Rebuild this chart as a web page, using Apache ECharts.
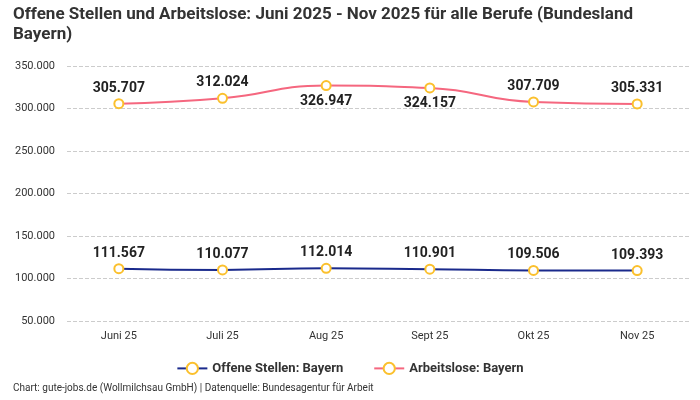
<!DOCTYPE html>
<html>
<head>
<meta charset="utf-8">
<style>
  html, body { margin: 0; padding: 0; background: #fff; }
  #main { width: 700px; height: 400px; }
</style>
</head>
<body>
<div id="main"></div>
<script src="https://cdn.jsdelivr.net/npm/echarts@6/dist/echarts.min.js"></script>
<script>
// Monate
var months = ['Juni 25', 'Juli 25', 'Aug 25', 'Sept 25', 'Okt 25', 'Nov 25'];
// Offene Stellen und Arbeitslose (Bayern)
var offeneStellen = [111567, 110077, 112014, 110901, 109506, 109393];
var arbeitslose = [305707, 312024, 326947, 324157, 307709, 305331];
// Label unter dem Punkt bei diesen Monaten (Arbeitslose)
var arbeitsloseLabelPos = ['top', 'top', 'bottom', 'bottom', 'top', 'top'];

var fontFam = 'Roboto, "Noto Sans", sans-serif';

function fmt(v) {
    return String(v).replace(/\B(?=(\d{3})+(?!\d))/g, '.');
}

var myChart = echarts.init(document.getElementById('main'));

var markerStyle = { color: '#ffffff', borderColor: '#fbc02d', borderWidth: 2 };

var option = {
    animation: false,
    textStyle: { fontFamily: fontFam },
    title: [{
        text: 'Offene Stellen und Arbeitslose: Juni 2025 - Nov 2025 für alle Berufe (Bundesland\nBayern)',
        left: 8,
        top: 0,
        textStyle: { fontSize: 17, fontWeight: 'bold', color: '#333', lineHeight: 20, fontFamily: fontFam }
    }, {
        text: 'Chart: gute-jobs.de (Wollmilchsau GmbH) | Datenquelle: Bundesagentur für Arbeit',
        left: 8,
        bottom: 2,
        textStyle: { fontSize: 10, fontWeight: 'normal', color: '#333', fontFamily: fontFam }
    }],
    legend: {
        bottom: 20,
        left: 'center',
        itemGap: 30,
        itemWidth: 30,
        textStyle: { fontSize: 13, fontWeight: 'bold', color: '#333' },
        data: ['Offene Stellen: Bayern', 'Arbeitslose: Bayern']
    },
    grid: {
        left: 67,
        right: 11,
        top: 66,
        bottom: 79
    },
    xAxis: {
        type: 'category',
        data: months,
        axisLine: { show: false },
        axisTick: { show: false },
        axisLabel: { color: '#333', fontSize: 11, margin: 10 }
    },
    yAxis: {
        type: 'value',
        min: 50000,
        max: 350000,
        interval: 50000,
        axisLabel: { color: '#333', fontSize: 11, margin: 12, formatter: fmt },
        splitLine: { lineStyle: { type: 'dashed', color: '#cccccc' } }
    },
    series: [{
        name: 'Offene Stellen: Bayern',
        type: 'line',
        smooth: true,
        data: offeneStellen,
        color: '#1a2a8c',
        lineStyle: { width: 2, color: '#1a2a8c' },
        symbol: 'circle',
        symbolSize: 9,
        itemStyle: markerStyle,
        label: {
            show: true,
            position: 'top',
            distance: 3,
            fontSize: 14,
            fontWeight: 'bold',
            color: '#222',
            formatter: function (p) { return fmt(p.value); }
        }
    }, {
        name: 'Arbeitslose: Bayern',
        type: 'line',
        smooth: true,
        data: arbeitslose.map(function (v, i) {
            return { value: v, label: { position: arbeitsloseLabelPos[i] } };
        }),
        color: '#f5677f',
        lineStyle: { width: 2, color: '#f5677f' },
        symbol: 'circle',
        symbolSize: 9,
        itemStyle: markerStyle,
        label: {
            show: true,
            position: 'top',
            distance: 3,
            fontSize: 14,
            fontWeight: 'bold',
            color: '#222',
            formatter: function (p) { return fmt(p.value); }
        }
    }]
};

myChart.setOption(option);
</script>
</body>
</html>
